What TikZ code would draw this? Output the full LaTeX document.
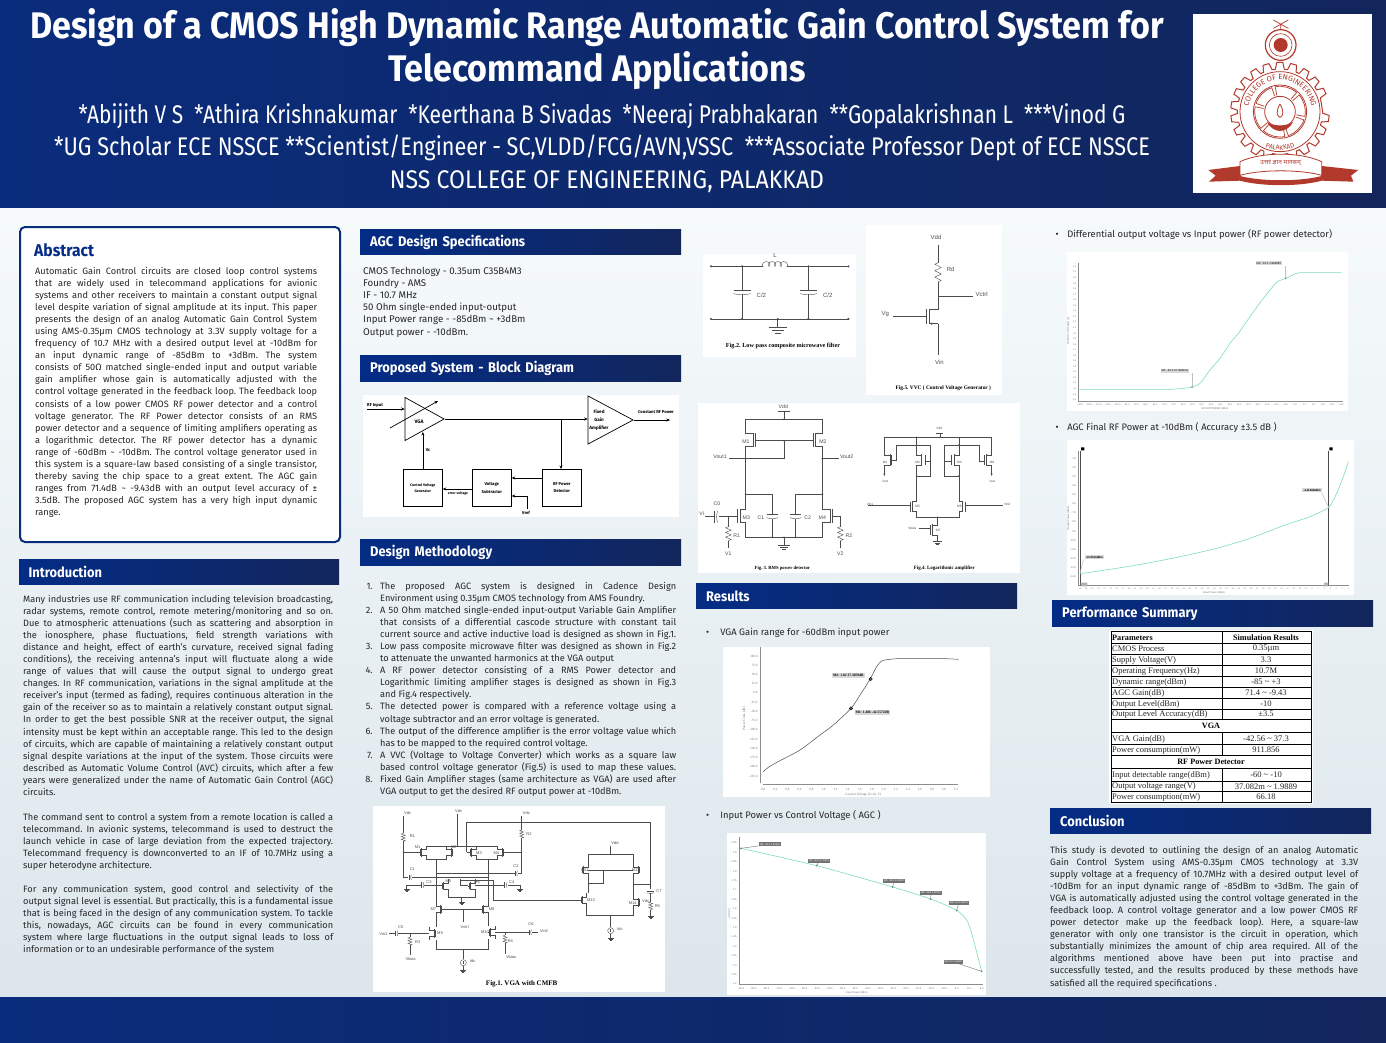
\documentclass[tikz,border=0pt]{standalone}
\usepackage{fontspec}
\usepackage{graphicx}
\setmainfont{Fira Sans}
\newfontfamily\headfont[FakeStretch=0.8]{Fira Sans}
\newfontfamily\titlefont[FakeStretch=0.92]{Fira Sans}
\newfontfamily\figfont{Liberation Sans}
\newfontfamily\capfont{Liberation Serif}
\newfontfamily\devafont[Script=Devanagari]{Noto Sans}
\usetikzlibrary{arrows.meta,calc,shapes.geometric,decorations.text}
\frenchspacing
\pgfkeys{/pgf/number format/assume math mode=true}

\definecolor{navyL}{HTML}{0A2C7C}
\definecolor{navyM}{HTML}{042C86}
\definecolor{navyR}{HTML}{12265C}
\definecolor{pagetop}{HTML}{F6FAFB}
\definecolor{pagebot}{HTML}{DCE6EC}
\definecolor{logored}{HTML}{B23A2C}
\definecolor{mint}{HTML}{7FDDB2}
\newcommand\tld{\textasciitilde}

\tikzset{
  headbar/.style={anchor=north west,left color=navyM,right color=navyR,text=white,minimum width=321pt,
    minimum height=25.5pt,inner xsep=10pt,inner ysep=0pt,font=\titlefont\bfseries\fontsize{14}{14}\selectfont,text width=301pt,align=left},
  bodytext/.style={anchor=north west,inner sep=0pt,align=justify,text=black!85,font=\fontsize{9.2}{12.08}\selectfont},
  bullettext/.style={anchor=west,inner sep=0pt,text=black!85,font=\fontsize{9.4}{10}\selectfont},
  wire/.style={draw=black!70,line width=.4pt},
  sig/.style={draw=black,line width=.7pt,-{Stealth[length=3.5pt,width=3pt]}},
  lbl/.style={inner sep=0pt,text=black!70,font=\figfont\fontsize{4.8}{5}\selectfont},
  biglbl/.style={inner sep=0pt,text=black!70,font=\figfont\fontsize{6}{6}\selectfont},
  blocklbl/.style={inner sep=0pt,align=center,font=\bfseries\fontsize{4.2}{5.4}\selectfont},
  blockbox/.style={draw=black,line width=.7pt,minimum width=39pt,minimum height=37pt,inner sep=0pt},
  amp/.style={draw=black,line width=.7pt,isosceles triangle,isosceles triangle stretches,inner sep=0pt,anchor=apex},
  figcap/.style={inner sep=0pt,font=\capfont\bfseries\fontsize{5.6}{6}\selectfont},
  tick/.style={inner sep=0pt,text=black!55,font=\figfont\fontsize{2.6}{3}\selectfont},
  axis/.style={draw=black!45,line width=.8pt},
  markbox/.style={draw=none,fill=black!15,inner sep=1pt,font=\figfont\fontsize{2.8}{3}\selectfont},
  darkmark/.style={fill=black!55,text=white,inner sep=1pt,font=\figfont\fontsize{2.4}{3}\selectfont},
  cell/.style={inner sep=0pt,text=black!85,font=\capfont\fontsize{8.5}{9}\selectfont},
  cellb/.style={inner sep=0pt,text=black,font=\capfont\bfseries\fontsize{8.2}{9}\selectfont},
  mosb/.pic={
    \begin{scope}[scale=1/3]
    \draw[wire] (-10,0) -- (-7,0) (-7,-10) -- (-7,10);
    \draw[draw=black!70,line width=.9pt] (-4,-13) -- (-4,13);
    \draw[wire] (-4,-9) -- (10,-9) -- (10,-20) (-4,9) -- (10,9) -- (10,20);
    \end{scope}
  },
  resv/.pic={
    \begin{scope}[scale=1/3]
    \draw[wire] (0,0) -- (-6,2) -- (6,6) -- (-6,10) -- (6,14) -- (-6,18) -- (6,22) -- (0,24);
    \end{scope}
  },
  capv/.pic={
    \begin{scope}[scale=1/3]
    \draw[wire] (-3,-8) -- (-3,8);
    \draw[wire] (4,-8) to[bend right=25] (4,8);
    \end{scope}
  },
  capn/.pic={
    \begin{scope}[scale=1/3]
    \draw[wire] (-17,-3) -- (17,-3);
    \draw[wire] (-17,6) to[bend right=20] (17,6);
    \end{scope}
  },
  gnda/.pic={
    \begin{scope}[scale=1/3]
    \draw[wire] (-9,0) -- (9,0) (-6,3) -- (6,3) (-3,6) -- (3,6);
    \end{scope}
  },
  isrc/.pic={
    \begin{scope}[scale=1/3]
    \draw[wire] (0,0) circle (9);
    \draw[wire] (0,5) -- (0,-5);
    \end{scope}
  }
}

\begin{document}
\begin{tikzpicture}[x=1pt,y=-1pt]
\useasboundingbox (0,0) rectangle (1386,1043);

% page and bands
\shade[top color=pagetop,bottom color=pagebot] (0,208) rectangle (1386,997);
\shade[left color=navyL,middle color=navyM,right color=navyR] (0,0) rectangle (1386,208);
\shade[left color=navyL,middle color=navyM,right color=navyR] (0,997) rectangle (1386,1043);

% title
\node[text=white,inner sep=0pt,font=\titlefont\bfseries\fontsize{37}{37}\selectfont] (title1) at (597,27.5) {Design of a CMOS High Dynamic Range Automatic Gain Control System for};
\node[text=white,inner sep=0pt,font=\titlefont\bfseries\fontsize{37}{37}\selectfont] (title2) at (597,70.5) {Telecommand Applications};
\node[text=white,inner sep=0pt,font=\headfont\fontsize{25.5}{26}\selectfont] (authors) at (602,116) {\scalebox{1.027}[1]{*Abijith V S\ \ *Athira Krishnakumar\ \ *Keerthana B Sivadas\ \ *Neeraj Prabhakaran\ \ **Gopalakrishnan L\ \ ***Vinod G}};
\node[text=white,inner sep=0pt,font=\headfont\fontsize{25.5}{26}\selectfont] (affil) at (602,148) {\scalebox{1.062}[1]{*UG Scholar ECE NSSCE **Scientist/Engineer - SC,VLDD/FCG/AVN,VSSC\ \ ***Associate Professor Dept of ECE NSSCE}};
\node[text=white,inner sep=0pt,font=\headfont\fontsize{25.5}{26}\selectfont] (college) at (607,182) {\scalebox{1.13}[1]{NSS COLLEGE OF ENGINEERING, PALAKKAD}};

% logo
\fill[white] (1193,14) rectangle (1372,193);
\begin{scope}[shift={(1185,10)},scale=1/3]
  \coordinate (gear) at (285,305);
  \draw[logored,line width=1pt] ($(gear)+(0:128)$) \foreach \a in {0,16.36,...,343} {
      -- ($(gear)+(\a+2:128)$) -- ($(gear)+(\a+4.5:148)$) -- ($(gear)+(\a+11.5:148)$) -- ($(gear)+(\a+14:128)$)
    } -- cycle;
  \draw[logored,line width=.8pt] (gear) circle (120) (gear) circle (80) (gear) circle (46);
  \foreach \a in {15,75,135,195,255,315} {
    \draw[logored,line width=.7pt] ($(gear)+(\a+4:50)$) -- ($(gear)+(\a+4:76)$) arc[start angle=\a+4,end angle=\a+56,radius=76] -- ($(gear)+(\a+56:50)$);
  }
  \draw[logored,line width=.8pt,fill=white] (285,282) .. controls (272,305) and (275,318) .. (285,322) .. controls (295,318) and (298,305) .. (285,282);
  \fill[logored] (245,335) .. controls (265,350) and (305,350) .. (325,335) .. controls (305,372) and (265,372) .. (245,335);
  \path[decorate,decoration={text along path,text align=center,
    text={|\color{logored}\fontsize{7.6}{9}\selectfont|COLLEGE OF ENGINEERING}}]
    ($(gear)+(160:95)$) arc[start angle=160,end angle=380,radius=95];
  \path[decorate,decoration={text along path,text align=center,
    text={|\color{logored}\fontsize{6.6}{9}\selectfont|PALAKKAD}}]
    ($(gear)+(130:115)$) arc[start angle=130,end angle=50,radius=115];
  \draw[logored,line width=1.2pt] (287,105) circle (46);
  \draw[logored,line width=.6pt] (287,105) circle (34);
  \fill[logored] (287,105) circle (21);
  \draw[logored,line width=.7pt] (265,30) -- (310,55) (310,30) -- (265,55) (287,42) -- (287,60);
  \fill[logored] (70,480) -- (165,468) -- (168,512) -- (72,515) -- (92,497) -- cycle;
  \fill[logored] (520,480) -- (410,468) -- (408,512) -- (505,515) -- (498,497) -- cycle;
  \fill[logored] (165,498) .. controls (230,515) and (345,515) .. (410,498) -- (410,512) .. controls (345,530) and (230,530) .. (165,512) -- cycle;
  \draw[logored,fill=white,line width=.8pt] (165,455) .. controls (230,425) and (345,425) .. (410,455) -- (410,496) .. controls (345,478) and (230,478) .. (165,496) -- cycle;
  \node[inner sep=0pt,text=logored,rotate=0,font=\devafont\fontsize{6.4}{7}\selectfont] (motto) at (287,458) {उत्तरं ज्ञान मानसम्};
\end{scope}

% column 1
\node[draw=navyL,line width=2pt,rounded corners=5pt,fill=white,anchor=north west,minimum width=320pt,minimum height=315pt,inner sep=0pt] (absbox) at (19,226) {};
\node[anchor=west,inner sep=0pt,text=navyM,font=\titlefont\bfseries\fontsize{17}{17}\selectfont] (abshead) at (34,250.5) {Abstract};
\node[bodytext,text width=282pt] (abstext) at (35,265.5) {\strut Automatic Gain Control circuits are closed loop control systems\linebreak
that are widely used in telecommand applications for avionic\linebreak
systems and other receivers to maintain a constant output signal\linebreak
level despite variation of signal amplitude at its input. This paper\linebreak
presents the design of an analog Automatic Gain Control System\linebreak
using AMS-0.35µm CMOS technology at 3.3V supply voltage for a\linebreak
frequency of 10.7 MHz with a desired output level at -10dBm for\linebreak
an input dynamic range of -85dBm to +3dBm. The system\linebreak
consists of 50Ω matched single-ended input and output variable\linebreak
gain amplifier whose gain is automatically adjusted with the\linebreak
control voltage generated in the feedback loop. The feedback loop\linebreak
consists of a low power CMOS RF power detector and a control\linebreak
voltage generator. The RF Power detector consists of an RMS\linebreak
power detector and a sequence of limiting amplifiers operating as\linebreak
a logarithmic detector. The RF power detector has a dynamic\linebreak
range of -60dBm \tld{} -10dBm. The control voltage generator used in\linebreak
this system is a square-law based consisting of a single transistor,\linebreak
thereby saving the chip space to a great extent. The AGC gain\linebreak
ranges from 71.4dB \tld{} -9.43dB with an output level accuracy of ±\linebreak
3.5dB. The proposed AGC system has a very high input dynamic\linebreak
range.};

\node[headbar,minimum width=320pt,inner xsep=8pt] (introhead) at (19,559) {Introduction};
\node[bodytext,text width=310pt] (intro1) at (23,593.5) {\strut Many industries use RF communication including television broadcasting,\linebreak
radar systems, remote control, remote metering/monitoring and so on.\linebreak
Due to atmospheric attenuations (such as scattering and absorption in\linebreak
the ionosphere, phase fluctuations, field strength variations with\linebreak
distance and height, effect of earth's curvature, received signal fading\linebreak
conditions), the receiving antenna's input will fluctuate along a wide\linebreak
range of values that will cause the output signal to undergo great\linebreak
changes. In RF communication, variations in the signal amplitude at the\linebreak
receiver's input (termed as fading), requires continuous alteration in the\linebreak
gain of the receiver so as to maintain a relatively constant output signal.\linebreak
In order to get the best possible SNR at the receiver output, the signal\linebreak
intensity must be kept within an acceptable range. This led to the design\linebreak
of circuits, which are capable of maintaining a relatively constant output\linebreak
signal despite variations at the input of the system. Those circuits were\linebreak
described as Automatic Volume Control (AVC) circuits, which after a few\linebreak
years were generalized under the name of Automatic Gain Control (AGC)\linebreak
circuits.};
\node[bodytext,text width=310pt] (intro2) at (23,811.5) {\strut The command sent to control a system from a remote location is called a\linebreak
telecommand. In avionic systems, telecommand is used to destruct the\linebreak
launch vehicle in case of large deviation from the expected trajectory.\linebreak
Telecommand frequency is downconverted to an IF of 10.7MHz using a\linebreak
super heterodyne architecture.};
\node[bodytext,text width=310pt] (intro3) at (23,883.5) {\strut For any communication system, good control and selectivity of the\linebreak
output signal level is essential. But practically, this is a fundamental issue\linebreak
that is being faced in the design of any communication system. To tackle\linebreak
this, nowadays, AGC circuits can be found in every communication\linebreak
system where large fluctuations in the output signal leads to loss of\linebreak
information or to an undesirable performance of the system};

% column 2
\node[headbar] (spechead) at (360,229) {AGC Design Specifications};
\node[bodytext,align=left,font=\fontsize{9.7}{12.08}\selectfont] (spectext) at (363,266) {\strut CMOS Technology - 0.35um C35B4M3\\
Foundry - AMS\\
IF - 10.7 MHz\\
50 Ohm single-ended input-output\\
Input Power range - -85dBm \tld{} +3dBm\\
Output power - -10dBm.};

\node[headbar] (blockhead) at (360,355.5) {Proposed System - Block Diagram};
\fill[white] (363,395) rectangle (679,517);
\node[amp,minimum width=43pt,minimum height=39pt] (vgaamp) at (445,419) {};
\node[amp,minimum width=48pt,minimum height=45pt] (fgaamp) at (634,420) {};
\node[blocklbl,font=\bfseries\fontsize{5}{5}\selectfont] (vgalbl) at (419,422) {VGA};
\node[blocklbl,font=\bfseries\fontsize{4.6}{8}\selectfont] (fgalbl) at (599,420) {Fixed\\Gain\\Amplifier};
\node[blockbox,anchor=north west] (cvg) at (403,469) {};
\node[blockbox,anchor=north west] (vsub) at (472,469) {};
\node[blockbox,anchor=north west] (rfpd) at (542,469) {};
\node[blocklbl,font=\bfseries\fontsize{3.6}{6}\selectfont] (cvglbl) at (cvg) {Control Voltage\\Generator};
\node[blocklbl,font=\bfseries\fontsize{4.2}{7.4}\selectfont] (vsublbl) at (vsub) {Voltage\\Subtractor};
\node[blocklbl,font=\bfseries\fontsize{4.2}{7.4}\selectfont] (rfpdlbl) at (rfpd) {RF Power\\Detector};
\node[blocklbl,anchor=south west] (rfinlbl) at (367,408) {RF Input};
\node[blocklbl] (outlbl) at (656,412) {Constant RF Power};
\node[blocklbl,font=\bfseries\fontsize{3.4}{4}\selectfont] (errlbl) at (458,494) {error voltage};
\node[blocklbl] (vclbl) at (428,450) {Vc};
\node[blocklbl] (vreflbl) at (526,513) {Vref};
\coordinate (rfin) at (367,409);
\coordinate (rfout) at (670,420);
\coordinate (tune1) at (390,428);
\coordinate (tune2) at (438,401);
\coordinate (vref) at (527,509);
\draw[sig] (rfin) -- (rfin -| vgaamp.west);
\draw[sig] (tune1) -- (tune2);
\draw[sig] (vgaamp.apex) -- (fgaamp.west |- vgaamp.apex);
\draw[sig] (fgaamp.apex) -- (rfout);
\draw[sig] (561,419) -- (561,469);
\draw[sig] (rfpd.west |- 0,478) -- (vsub.east |- 0,478);
\draw[sig] (vref) -- (527,496) -- (vsub.east |- 0,496);
\draw[sig] (vsub.west |- 0,489) -- (cvg.east |- 0,489);
\draw[sig] (cvg.north) -- (cvg.north |- 0,432);

\node[headbar] (methhead) at (360,539.5) {Design Methodology};
\node[bodytext,text width=296pt] (methtext) at (380,580.5) {\strut \llap{1.\hspace{7.5pt}}The proposed AGC system is designed in Cadence Design\linebreak
Environment using 0.35µm CMOS technology from AMS Foundry.\hfill\null\linebreak
\llap{2.\hspace{7.5pt}}A 50 Ohm matched single-ended input-output Variable Gain Amplifier\linebreak
that consists of a differential cascode structure with constant tail\linebreak
current source and active inductive load is designed as shown in Fig.1.\linebreak
\llap{3.\hspace{7.5pt}}Low pass composite microwave filter was designed as shown in Fig.2\linebreak
to attenuate the unwanted harmonics at the VGA output\hfill\null\linebreak
\llap{4.\hspace{7.5pt}}A RF power detector consisting of a RMS Power detector and\linebreak
Logarithmic limiting amplifier stages is designed as shown in Fig.3\linebreak
and Fig.4 respectively.\hfill\null\linebreak
\llap{5.\hspace{7.5pt}}The detected power is compared with a reference voltage using a\linebreak
voltage subtractor and an error voltage is generated.\hfill\null\linebreak
\llap{6.\hspace{7.5pt}}The output of the difference amplifier is the error voltage value which\linebreak
has to be mapped to the required control voltage.\hfill\null\linebreak
\llap{7.\hspace{7.5pt}}A VVC (Voltage to Voltage Converter) which works as a square law\linebreak
based control voltage generator (Fig.5) is used to map these values.\linebreak
\llap{8.\hspace{7.5pt}}Fixed Gain Amplifier stages (same architecture as VGA) are used after\linebreak
VGA output to get the desired RF output power at -10dBm.};

% fig 1
\fill[white] (373,806) rectangle (665,992);
\begin{scope}[shift={(365,800)},scale=1/3]
  \pic at (173,158) {mosb}; \pic[xscale=-1] at (255,158) {mosb};
  \pic at (323,157) {mosb}; \pic[xscale=-1] at (408,157) {mosb};
  \pic at (240,258) {mosb}; \pic at (320,258) {mosb};
  \pic[xscale=-1] at (223,328) {mosb}; \pic at (360,328) {mosb};
  \pic[xscale=-1] at (203,400) {mosb}; \pic at (380,397) {mosb};
  \pic at (660,210) {mosb}; \pic[xscale=-1] at (815,210) {mosb};
  \pic at (655,300) {mosb}; \pic[xscale=-1] at (815,308) {mosb};
  \pic at (115,100) {resv}; \pic at (470,90) {resv}; \pic at (135,412) {resv}; \pic at (420,406) {resv}; \pic at (857,305) {resv};
  \pic at (135,232) {capv}; \pic at (453,220) {capv}; \pic at (172,255) {capv}; \pic at (422,255) {capv};
  \pic at (94,400) {capv}; \pic at (495,397) {capv};
  \pic[scale=.6] at (857,275) {capn};
  \draw[wire] (115,48) -- (115,100) (115,124) -- (115,232) -- (130,232) (115,158) -- (163,158);
  \draw[wire] (141,232) -- (370,232) (183,138) -- (245,138) (183,178) -- (245,178) (278,42) -- (278,138) (245,138) -- (398,138);
  \draw[wire] (333,177) -- (398,177) (305,157) -- (313,157) (418,157) -- (470,157) (470,48) -- (470,90) (470,114) -- (470,220) -- (458,220) (213,220) -- (449,220);
  \draw[wire] (213,178) -- (213,308) (370,177) -- (370,308) (305,157) -- (305,67) -- (857,67) -- (857,268);
  \draw[wire] (125,255) -- (168,255) (178,255) -- (230,255) (125,255) -- (125,268) (285,238) -- (285,255) -- (310,255) (285,242) -- (385,242) -- (385,300) -- (645,300) (330,255) -- (418,255) (428,255) -- (465,255) -- (465,268);
  \draw[wire] (250,278) -- (250,292) -- (330,292) -- (330,278) (290,292) -- (290,308);
  \draw[wire] (232,328) -- (350,328) (295,328) -- (295,365) (213,348) -- (213,380) (370,348) -- (370,377);
  \draw[wire] (213,420) -- (213,447) -- (370,447) -- (370,417) (295,447) -- (295,478) (295,498) -- (295,510);
  \draw[wire] (72,400) -- (90,400) (99,400) -- (193,400) (135,400) -- (135,412) (135,436) -- (135,465);
  \draw[wire] (390,397) -- (491,397) (500,397) -- (520,397) (420,397) -- (420,406) (420,430) -- (420,462);
  \draw[wire] (737,137) -- (737,162) (670,162) -- (805,162) (670,162) -- (670,190) (805,162) -- (805,190) (670,210) -- (805,210) (714,210) -- (714,250) -- (670,250) (670,230) -- (670,280);
  \draw[wire] (805,230) -- (805,288) (805,253) -- (857,253) (665,320) -- (665,345) -- (805,345) -- (805,328) (737,345) -- (737,382) (737,402) -- (737,415) (857,280) -- (857,305) (857,329) -- (857,350);
  \pic at (125,268) {gnda}; \pic at (465,268) {gnda}; \pic at (290,308) {gnda}; \pic at (295,510) {gnda}; \pic at (737,415) {gnda}; \pic at (857,350) {gnda};
  \pic at (295,488) {isrc}; \pic at (737,392) {isrc};
  \foreach \tx/\px/\py/\nm in {Vdc/128/38/vda,R1/142/107/ra,M1/158/140/ma,Vdc/281/33/vdb,M2/266/142/mb,M3/342/158/mc,M4/394/158/md,Vdc/484/39/vdc,R2/492/102/rb,C1/142/208/ca,C2/453/198/cb,C3/192/246/cc,C4/440/246/cd,M5/250/243/me,M6/336/247/mf,M7/205/328/mg,M8/380/328/mh,M9/225/398/mi,M10/360/397/mj,Vctrl/299/380/vca,C5/107/380/ce,C6/498/373/cf,Vin1/55/402/via,Vin2/537/392/vib,R3/158/425/rc,R4/436/422/rd,Vbias/137/477/vba,Vbias/438/472/vbb,Idc/323/484/ida,Vdd/750/130/vdd,M11/660/210/mk,M12/812/210/ml,M13/678/300/mm,M14/803/308/mn,Vdc/842/302/vdd2,R5/877/317/re,C7/882/272/cg,Idc/765/388/idb} {
    \node[lbl,font=\figfont\fontsize{4}{4}\selectfont] (fa\nm) at (\px,\py) {\tx};
  }
  \node[figcap,font=\capfont\bfseries\fontsize{7}{7}\selectfont] (fig1cap) at (470,553) {Fig.1. VGA with CMFB};
\end{scope}

% column 3 top
\fill[white] (703,254) rectangle (856,357);
\begin{scope}[shift={(695,222)},scale=1/3]
  \draw[wire] (48,133) -- (205,133) (275,133) -- (460,133) (48,291) -- (460,291);
  \draw[wire,domain=0:1,samples=90] plot ({205+70*\x-6*sin(1440*\x)},{133-7*(1-cos(1440*\x))});
  \draw[wire] (141,133) -- (141,206) (141,215) -- (141,291) (340,133) -- (340,206) (340,215) -- (340,291) (248,291) -- (248,316);
  \pic[xscale=1.5] at (141,209) {capn}; \pic[xscale=1.5] at (340,209) {capn};
  \pic[scale=3] at (248,316) {gnda};
  \foreach \px/\py in {48/133,141/133,340/133,460/133,48/291,141/291,248/291,340/291,460/291} {
    \fill[black!70] (\px,\py) circle (3.5);
  }
  \node[biglbl] (fblbl) at (240,100) {L};
  \node[biglbl] (fbca) at (199,219) {C/2};
  \node[biglbl] (fbcb) at (398,219) {C/2};
  \node[figcap,font=\capfont\bfseries\fontsize{6.2}{7}\selectfont] (fig2cap) at (264,373) {Fig.2. Low pass composite microwave filter};
\end{scope}
\fill[white] (866,225) rectangle (1002,395);
\begin{scope}[shift={(695,222)},scale=1/3]
  \draw[wire] (729,68) -- (729,122) (729,180) -- (729,262) -- (703,262) -- (703,305) (729,224) -- (835,224) (594,284) -- (694,284) (694,262) -- (694,305);
  \draw[draw=black!70,-{Stealth[length=3pt]},line width=.4pt] (729,305) -- (703,305);
  \draw[wire] (729,305) -- (729,400);
  \pic[xscale=1.6,yscale=58/24] at (729,122) {resv};
  \node[biglbl] (fevdd) at (723,45) {Vdd};
  \node[biglbl] (ferd) at (767,143) {Rd};
  \node[biglbl] (fectrl) at (860,217) {Vctrl};
  \node[biglbl] (fevg) at (571,277) {Vg};
  \node[biglbl] (fevin) at (733,422) {Vin};
  \node[figcap,font=\capfont\bfseries\fontsize{5.4}{6}\selectfont] (fig5cap) at (745,500) {Fig.5. VVC ( Control Voltage Generator )};
\end{scope}

% fig 3 and 4
\fill[white] (698,403) rectangle (1020,573);
\begin{scope}[shift={(695,400)},scale=1/3]
  \draw[wire] (248,33) -- (285,33) (267,33) -- (267,58) (152,58) -- (382,58) (152,58) -- (152,100) -- (176,100) (176,140) -- (152,140) -- (152,328) -- (135,328);
  \draw[draw=black!70,line width=.9pt] (176,98) -- (176,142) (360,98) -- (360,142) (135,326) -- (135,370) (405,326) -- (405,370);
  \draw[wire] (182,100) -- (182,140) (354,100) -- (354,140) (128,328) -- (128,368) (412,328) -- (412,368);
  \draw[wire] (182,122) -- (354,122) (102,176) -- (267,176) -- (267,122) (382,58) -- (382,100) -- (360,100) (360,140) -- (382,140) -- (382,328) -- (405,328) (382,176) -- (432,176);
  \draw[wire] (152,283) -- (232,283) -- (232,342) (232,356) -- (232,412) (382,283) -- (302,283) -- (302,342) (302,356) -- (302,412);
  \draw[wire] (135,368) -- (152,368) -- (152,412) -- (382,412) -- (382,368) -- (405,368);
  \draw[wire] (30,350) -- (58,350) (72,350) -- (128,350) (100,350) -- (100,380) (100,422) -- (100,445) (412,350) -- (436,350) -- (436,380) (436,422) -- (436,445) (267,412) -- (267,435);
  \pic[xscale=1.4,yscale=42/24] at (100,380) {resv}; \pic[xscale=1.4,yscale=42/24] at (436,380) {resv};
  \pic at (232,347) {capn}; \pic at (302,347) {capn};
  \pic[xscale=1.4,yscale=2.2] at (62,350) {capv};
  \pic[scale=2] at (267,435) {gnda};
  \foreach \px/\py in {267/58,267/122,152/176,382/176,152/283,382/283,100/350,232/412,267/412,302/412} {
    \fill[black!70] (\px,\py) circle (3);
  }
  \foreach \tx/\px/\py/\nm in {Vdd/265/20/a,M1/153/125/b,M2/384/125/c,Vout1/75/170/d,Vout2/455/170/e,C0/66/310/f,Vi/20/342/g,M3/154/352/h,C1/198/352/i,C2/338/352/j,M4/382/352/k,R1/125/406/l,R2/462/406/m,V1/100/460/n,V2/436/460/o} {
    \node[lbl,font=\figfont\fontsize{5.2}{6}\selectfont] (fc\nm) at (\px,\py) {\tx};
  }
  \node[figcap,font=\capfont\bfseries\fontsize{4.7}{5}\selectfont] (fig3cap) at (262,504) {Fig. 3. RMS power detector};
  % log amp
  \draw[wire] (724,99) -- (745,99) (735,99) -- (735,112) (568,112) -- (890,112) (568,112) -- (568,165) -- (585,165) (585,195) -- (568,195);
  \draw[wire] (605,135) -- (705,135) -- (705,228) -- (665,228) (605,135) -- (605,180) -- (590,180);
  \draw[wire] (665,112) -- (665,165) -- (680,165) (680,195) -- (665,195) -- (665,305) -- (652,305) (690,183) -- (705,183);
  \draw[wire] (792,112) -- (792,165) -- (778,165) (778,195) -- (792,195) -- (792,305) -- (803,305) (768,183) -- (748,183);
  \draw[wire] (748,135) -- (852,135) -- (852,183) -- (868,183) (748,135) -- (748,228) -- (792,228) (890,112) -- (890,165) -- (875,165) (875,195) -- (890,195);
  \draw[draw=black!70,line width=.4pt,-{Stealth[length=2.5pt]}] (568,195) -- (568,228);
  \draw[draw=black!70,line width=.4pt,-{Stealth[length=2.5pt]}] (890,195) -- (890,228);
  \draw[draw=black!70,line width=.9pt] (585,163) -- (585,197) (680,163) -- (680,197) (778,163) -- (778,197) (875,163) -- (875,197) (652,303) -- (652,337) (803,303) -- (803,337) (712,373) -- (712,407);
  \draw[wire] (590,165) -- (590,195) (690,165) -- (690,195) (768,165) -- (768,195) (868,165) -- (868,195) (646,305) -- (646,335) (810,305) -- (810,335) (705,375) -- (705,405);
  \draw[wire] (652,335) -- (665,335) -- (665,352) -- (792,352) -- (792,335) -- (803,335) (520,316) -- (646,316) (810,316) -- (925,316);
  \draw[wire] (728,352) -- (728,375) -- (712,375) (712,405) -- (728,405) -- (728,425) (672,386) -- (705,386);
  \pic[scale=1.4] at (728,425) {gnda};
  \foreach \px/\py in {665/112,735/112,792/112,665/135,792/135,665/228,792/228,728/352} {
    \fill[black!70] (\px,\py) circle (2.4);
  }
  \foreach \tx/\px/\py/\nm in {Vdd/733/85/a,M1/570/188/b,M2/668/188/c,M3/793/188/d,M4/891/188/e,Iout/571/245/f,Iout/892/245/g,Vin1/525/312/h,Vin2/937/312/i,M5/668/318/j,M6/793/318/k,Vbias/652/386/l,M7/730/390/m} {
    \node[lbl,font=\figfont\fontsize{3.2}{4}\selectfont] (fd\nm) at (\px,\py) {\tx};
  }
  \node[figcap,font=\capfont\bfseries\fontsize{5}{5}\selectfont] (fig4cap) at (748,504) {Fig.4. Logarithmic amplifier};
\end{scope}

% results
\node[headbar] (reshead) at (696,583) {Results};
\node[bullettext] (vgabullet) at (706,632.5) {\textbullet\hspace{11pt}VGA Gain range for -60dBm input power};
\fill[white] (723,647) rectangle (990,797);
\begin{scope}[shift={(700,620)},scale=1/3]
  \draw[axis] (180,82) -- (180,490) (190,494) -- (775,494);
  \foreach \v [count=\i from 0] in {100.0,75.0,50.0,25.0,0.0,-25.0,-50.0,-75.0,-100.0,-125.0,-150.0,-175.0,-200.0,-225.0} {
    \node[tick,font=\capfont\fontsize{3.2}{4}\selectfont,anchor=east] (vgy\i) at (173,108+27.7*\i) {\v};
  }
  \foreach \v [count=\i from 0] in {0.0,0.2,0.4,0.6,0.8,1.0,1.2,1.4,1.6,1.8,2.0,2.2,2.4,2.6,2.8,3.0,3.2} {
    \node[tick,font=\capfont\fontsize{3.2}{4}\selectfont] (vgx\i) at (190+36.1*\i,508) {\v};
  }
  \draw[draw=black!70,line width=.5pt,smooth] plot coordinates {(190,455) (205,442) (240,422) (300,390) (360,345) (400,315) (453,265) (480,225) (510,178) (530,140) (545,123) (570,118) (600,116) (730,116) (775,118)};
  \draw[draw=black,line width=.5pt] (453,265) circle (5) (512,177) circle (5);
  \fill[black!70] (453,265) circle (3) (512,177) circle (3);
  \node[markbox,font=\capfont\bfseries\fontsize{3.6}{4}\selectfont] (vgm2) at (445,166) {M2: 1.82 37.3059dB};
  \node[markbox,font=\capfont\bfseries\fontsize{3.6}{4}\selectfont] (vgm1) at (517,278) {M1: 1.486 -42.5572dB};
  \node[tick,font=\capfont\fontsize{3.4}{4}\selectfont] (vgxt) at (490,524) {Control Voltage (Vctrl, V)};
  \node[tick,font=\capfont\fontsize{3.4}{4}\selectfont,rotate=90] (vgyt) at (133,296) {Power Units (dB)};
\end{scope}

\node[bullettext] (agcbullet) at (706,816) {\textbullet\hspace{11pt}Input Power vs Control Voltage ( AGC )};
\fill[white] (727,833) rectangle (986,995);
\begin{scope}[shift={(700,810)},scale=1/3]
  \draw[axis,line width=.5pt] (117,80) -- (117,522) -- (850,522);
  \foreach \v [count=\i from 0] in {1.95,1.9,1.85,1.8,1.75,1.7,1.65,1.6,1.55,1.5,1.45,1.4,1.35,1.3,1.25,1.2} {
    \node[tick,anchor=east] (agy\i) at (110,99+28.2*\i) {\v};
  }
  \foreach \i in {0,...,19} {
    \pgfmathsetmacro\val{-90+5*\i}
    \node[tick] (agx\i) at (123+38*\i,537) {\pgfmathprintnumber[fixed,precision=1,zerofill]{\val}};
  }
  \draw[draw=mint,line width=.6pt,smooth] plot[tension=.4] coordinates {(123,115) (350,167) (578,231) (692,267) (770,301) (800,330) (815,370) (845,484)};
  \foreach \px/\py/\qx/\qy/\tx/\nm in {123/115/210/103/{M4: -90.0 1.9135V}/a,350/167/358/152/{M7: -60.0 1.7531V}/b,578/231/582/212/{M5: -30.0 1.5328V}/c,692/267/693/248/{M6: -15.0 1.3674V}/d,770/301/777/278/{M8: -5.0 1.4807V}/e,845/484/760/456/{M9: 5.0 1.0619V}/f} {
    \fill[mint!70!black] (\px,\py) circle (3);
    \draw[draw=black!55,line width=.4pt] (\px,\py) -- (\qx,\qy);
    \node[darkmark] (agm\nm) at (\qx,\qy) {\tx};
  }
  \node[tick] (agxt) at (470,547) {Input Power (dBm)};
  \node[tick,rotate=90] (agyt) at (88,310) {Vctrl (V)};
\end{scope}

% column 4
\node[bullettext] (rfbullet) at (1055.5,235) {\textbullet\hspace{8.5pt}Differential output voltage vs Input power (RF power detector)};
\fill[white] (1067,252) rectangle (1348,411);
\begin{scope}[shift={(1050,225)},scale=1/3]
  \draw[axis,line width=.5pt] (85,115) -- (85,530) -- (880,530);
  \foreach \i in {0,...,24} {
    \pgfmathsetmacro\val{2.2-0.1*\i}
    \node[tick,font=\figfont\fontsize{2.2}{3}\selectfont,anchor=east] (rfy\i) at (79,125+16.65*\i) {\pgfmathprintnumber[fixed,precision=1,zerofill]{\val}};
  }
  \foreach \i in {0,...,28} {
    \pgfmathsetmacro\val{-120+5*\i}
    \node[tick,font=\figfont\fontsize{2.2}{3}\selectfont] (rfx\i) at (90+28.04*\i,540) {\pgfmathprintnumber[fixed,precision=1,zerofill]{\val}};
  }
  \draw[draw=mint,line width=.6pt,smooth] plot[tension=.35] coordinates {(88,493) (350,493) (400,490) (426,486) (450,475) (480,435) (510,400) (540,355) (565,325) (600,275) (640,220) (680,172) (707,160) (740,145) (760,143) (875,143)};
  \fill[mint!70!black] (426,486) circle (3) (707,160) circle (3);
  \draw[draw=black!25,line width=.5pt] (426,486) -- (426,445) (707,160) -- (707,122);
  \node[markbox] (rfm1) at (375,438) {M1: -60.0 37.0839mV};
  \node[markbox] (rfm2) at (657,115) {M2: -10.0 1.98896V};
  \node[tick] (rfxt) at (495,550) {RFOUTPOWER (dBm)};
  \node[tick,rotate=90] (rfyt) at (55,318) {OUTPUT VOLTAGE (V)};
\end{scope}

\node[bullettext] (finbullet) at (1055.5,428) {\textbullet\hspace{8.5pt}AGC Final RF Power at -10dBm ( Accuracy ±3.5 dB )};
\fill[white] (1067,440) rectangle (1354,595);
\begin{scope}[shift={(1050,420)},scale=1/3]
  \draw[axis,line width=.5pt] (84,92) -- (84,497) -- (897,497);
  \draw[draw=black!70,line width=.6pt] (90,92) -- (90,497) (836,92) -- (836,497);
  \fill[black] (93,82) rectangle (103,91) (838,82) rectangle (848,91);
  \fill[black!30] (92,488) rectangle (112,499) (822,488) rectangle (835,499);
  \foreach \i in {0,...,13} {
    \pgfmathsetmacro\val{-1-\i}
    \node[tick,anchor=east] (fiy\i) at (79,115+27.3*\i) {\pgfmathprintnumber[fixed,precision=1,zerofill]{\val}};
  }
  \foreach \i in {0,...,44} {
    \pgfmathsetmacro\val{-85+2*\i}
    \node[tick,font=\figfont\fontsize{1.9}{2}\selectfont] (fix\i) at (90+18.3*\i,507) {\pgfmathprintnumber[fixed,precision=0]{\val}};
  }
  \draw[draw=mint,line width=.6pt,smooth] plot[tension=.4] coordinates {(90,461) (200,445) (300,428) (400,408) (500,385) (600,355) (700,317) (780,290) (836,262) (860,220) (880,170) (895,125)};
  \draw[draw=black!25,line width=.5pt] (836,262) -- (815,218) (90,461) -- (100,418);
  \node[markbox,font=\figfont\bfseries\fontsize{2.8}{3}\selectfont] (fim1) at (786,211) {-4.41699dBm};
  \node[markbox,font=\figfont\bfseries\fontsize{2.8}{3}\selectfont] (fim2) at (133,412) {-13.0194dBm};
  \node[tick] (fixt) at (492,517) {Input Power (dBm)};
  \node[tick,rotate=90] (fiyt) at (55,295) {Output Power (dBm)};
\end{scope}

\node[headbar,minimum width=320pt] (perfhead) at (1052,600.5) {Performance Summary};
\fill[white] (1109,630) rectangle (1313,804);
\draw[draw=black,line width=.6pt] (1111,631.7) rectangle (1311,802.3);
\foreach \ly in {643.7,654.7,665.7,676.7,687.7,698.3,709,719.3,732.3,744.3,755,768.3,781,791.7} {
  \draw[draw=black,line width=.5pt] (1111,\ly) -- (1311,\ly);
}
\draw[draw=black,line width=.5pt] (1222,631.7) -- (1222,719.3) (1222,732.3) -- (1222,755) (1222,768.3) -- (1222,802.3);
\node[cellb,anchor=west] (parhead) at (1112,638) {Parameters};
\node[cellb] (simhead) at (1266,638) {Simulation Results};
\foreach \py/\pn/\pv [count=\i] in {649/CMOS Process/0.35µm,660/Supply Voltage(V)/3.3,671/Operating Frequency(Hz)/10.7M,682/Dynamic range(dBm)/-85 \tld{} +3,693/AGC Gain(dB)/71.4 \tld{} -9.43,704/Output Level(dBm)/-10,714/Output Level Accuracy(dB)/±3.5,739/VGA Gain(dB)/-42.56 \tld{} 37.3,750/Power consumption(mW)/911.856,775/Input detectable range(dBm)/-60 \tld{} -10,786.5/Output voltage range(V)/37.082m \tld{} 1.9889,797/Power consumption(mW)/66.18} {
  \node[cell,anchor=west] (pn\i) at (1112,\py) {\pn};
  \node[cell] (pv\i) at (1266,\py) {\pv};
}
\node[cellb] (vgarow) at (1211,726) {VGA};
\node[cellb] (rfrow) at (1211,762) {RF Power Detector};

\node[headbar,minimum width=320pt] (conchead) at (1050,808) {Conclusion};
\node[bodytext,text width=308pt] (conctext) at (1050,844.5) {\strut This study is devoted to outlining the design of an analog Automatic\linebreak
Gain Control System using AMS-0.35µm CMOS technology at 3.3V\linebreak
supply voltage at a frequency of 10.7MHz with a desired output level of\linebreak
-10dBm for an input dynamic range of -85dBm to +3dBm. The gain of\linebreak
VGA is automatically adjusted using the control voltage generated in the\linebreak
feedback loop. A control voltage generator and a low power CMOS RF\linebreak
power detector make up the feedback loop). Here, a square-law\linebreak
generator with only one transistor is the circuit in operation, which\linebreak
substantially minimizes the amount of chip area required. All of the\linebreak
algorithms mentioned above have been put into practise and\linebreak
successfully tested, and the results produced by these methods have\linebreak
satisfied all the required specifications .};
\end{tikzpicture}
\end{document}
